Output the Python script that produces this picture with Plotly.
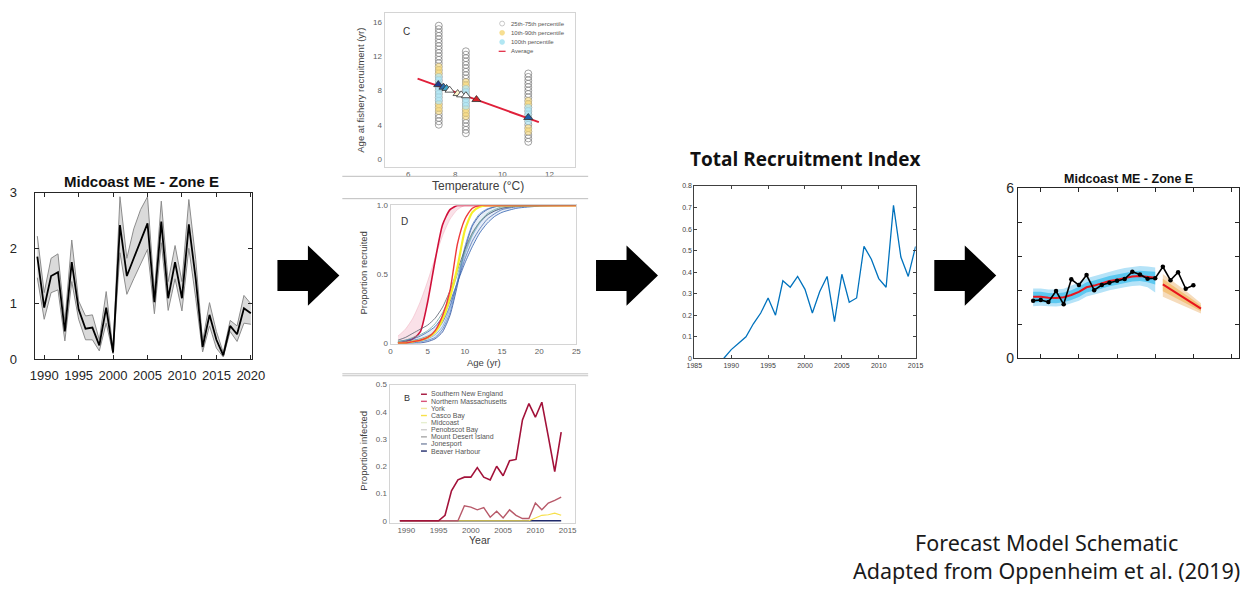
import plotly.graph_objects as go

# ---------------- DATA ----------------
# Panel A: Midcoast ME - Zone E (observed index with uncertainty band)
YEARS_A = [1989, 1990, 1991, 1992, 1993, 1994, 1995, 1996, 1997, 1998, 1999, 2000, 2001, 2002, 2003, 2004,
           2005, 2006, 2007, 2008, 2009, 2010, 2011, 2012, 2013, 2014, 2015, 2016, 2017, 2018, 2019, 2020]
MEAN_A = [1.85, 0.93, 1.5, 1.57, 0.5, 1.75, 0.9, 0.55, 0.57, 0.25, 0.93, 0.12, 2.42, 1.5, 1.82, 2.13,
          2.45, 1.03, 2.48, 1.1, 1.75, 1.1, 2.43, 1.45, 0.22, 0.8, 0.35, 0.07, 0.6, 0.45, 0.92, 0.83]
UP_A = [2.22, 1.2, 1.82, 1.9, 0.68, 2.15, 1.05, 0.78, 0.8, 0.35, 1.22, 0.17, 2.93, 1.82, 2.35, 2.7,
        2.93, 1.22, 2.85, 1.4, 2.05, 1.4, 2.88, 1.8, 0.32, 1.02, 0.5, 0.12, 0.7, 0.6, 1.15, 1.0]
LO_A = [1.47, 0.72, 1.2, 1.25, 0.33, 1.4, 0.72, 0.35, 0.35, 0.15, 0.65, 0.1, 1.92, 1.17, 1.45, 1.72,
        1.98, 0.82, 2.1, 0.88, 1.45, 0.87, 2.0, 1.1, 0.13, 0.6, 0.2, 0.04, 0.5, 0.32, 0.65, 0.63]
TICKS_A_X = [1990, 1995, 2000, 2005, 2010, 2015, 2020]
TICKS_A_Y = [0, 1, 2, 3]

# Panel C: age at fishery recruitment vs temperature
COL_TEMPS = [7.3, 8.45, 11.1]
COL1_AGES = [4.0, 4.4, 4.8, 5.2, 5.6, 6.0, 6.4, 6.8, 7.2, 7.6, 8.0, 8.4, 8.8, 9.2, 9.6, 10.0, 10.4, 10.8,
             11.2, 11.6, 12.0, 12.4, 12.8, 13.2, 13.6, 14.0, 14.4, 14.8, 15.2, 15.6]
COL2_AGES = [3.0, 3.4, 3.8, 4.2, 4.6, 5.0, 5.4, 5.8, 6.2, 6.6, 7.0, 7.4, 7.8, 8.2, 8.6, 9.0, 9.4, 9.8,
             10.2, 10.6, 11.0, 11.4, 11.8, 12.2, 12.6]
COL3_AGES = [2.0, 2.4, 2.8, 3.2, 3.6, 4.0, 4.4, 4.8, 5.2, 5.6, 6.0, 6.4, 6.8, 7.2, 7.6, 8.0, 8.4, 8.8,
             9.2, 9.6, 10.0]
P1090_AGES = [[5.6, 6.0, 6.4, 10.0, 10.4, 10.8], [5.0, 5.4, 5.8, 8.6, 9.0], [3.2, 3.6, 6.4, 6.8]]
P2575_AGES = [[6.8, 7.2, 7.6, 8.0, 8.4, 8.8, 9.2, 9.6], [6.2, 6.6, 7.0, 7.4, 7.8, 8.2], [4.4, 4.8, 5.2, 5.6, 6.0]]
TRI_TEMP = [7.28, 7.5, 7.63, 7.76, 8.1, 8.25, 8.45, 8.9, 11.1]
TRI_AGE = [8.7, 8.4, 8.25, 8.05, 7.65, 7.5, 7.4, 6.95, 4.85]
TRI_COLORS = ['#1f3b8c', '#2a6fb0', '#3fa6c8', '#ffffff', '#fff5cc', '#ffffff', '#ffffff', '#d62027', '#1f5fa8']
AVG_TEMP = [6.4, 11.55]
AVG_AGE = [9.4, 4.3]
C_LEGEND = ['25th-75th percentile', '10th-90th percentile', '100th percentile', 'Average']

# Panel D: proportion recruited vs age
AGE_D = [1, 2, 3, 4, 5, 6, 7, 8, 9, 10, 11, 12, 13, 14, 15, 17, 20, 25]
R_SHALLOW = [0.05, 0.1, 0.18, 0.3, 0.45, 0.62, 0.78, 0.9, 0.97, 1, 1, 1, 1, 1, 1, 1, 1, 1]
R_STEEP = [0.0, 0.01, 0.03, 0.08, 0.3, 0.6, 0.86, 0.97, 1, 1, 1, 1, 1, 1, 1, 1, 1, 1]
R_LATE = [0, 0, 0.01, 0.02, 0.04, 0.09, 0.2, 0.38, 0.72, 0.9, 0.98, 1, 1, 1, 1, 1, 1, 1]
Y_LATE = [0, 0, 0.01, 0.02, 0.04, 0.08, 0.17, 0.33, 0.55, 0.82, 0.95, 0.99, 1, 1, 1, 1, 1, 1]
B_STEEP = [0, 0, 0, 0, 0.01, 0.03, 0.08, 0.2, 0.42, 0.68, 0.85, 0.93, 0.97, 0.99, 1, 1, 1, 1]
B_MID1 = [0, 0, 0, 0.01, 0.02, 0.04, 0.1, 0.22, 0.45, 0.7, 0.86, 0.94, 0.975, 0.99, 1, 1, 1, 1]
B_MID2 = [0, 0, 0.01, 0.02, 0.03, 0.06, 0.12, 0.25, 0.45, 0.64, 0.78, 0.87, 0.93, 0.96, 0.98, 0.995, 1, 1]
B_MID3 = [0, 0.01, 0.02, 0.03, 0.05, 0.08, 0.15, 0.27, 0.44, 0.61, 0.74, 0.83, 0.9, 0.94, 0.97, 0.99, 1, 1]
B_SHALLOW = [0.01, 0.02, 0.03, 0.05, 0.08, 0.12, 0.19, 0.3, 0.44, 0.58, 0.7, 0.8, 0.87, 0.92, 0.95, 0.98, 0.995, 1]
G_ONE = [0.02, 0.04, 0.07, 0.1, 0.13, 0.18, 0.26, 0.38, 0.53, 0.68, 0.8, 0.88, 0.93, 0.96, 0.98, 0.995, 1, 1]
G_TWO = [0.01, 0.02, 0.04, 0.06, 0.09, 0.14, 0.22, 0.34, 0.5, 0.66, 0.79, 0.88, 0.94, 0.97, 0.99, 1, 1, 1]

# Panel B: proportion infected by region
YEARS_B = [1989, 1990, 1991, 1992, 1993, 1994, 1995, 1996, 1997, 1998, 1999, 2000, 2001, 2002, 2003,
           2004, 2005, 2006, 2007, 2008, 2009, 2010, 2011, 2012, 2013, 2014]
SNE = [0, 0, 0, 0, 0, 0, 0, 0.02, 0.11, 0.15, 0.16, 0.16, 0.195, 0.16, 0.15, 0.2, 0.165, 0.22, 0.225,
       0.37, 0.43, 0.38, 0.435, 0.31, 0.18, 0.325]
NMASS = [0, 0, 0, 0, 0, 0, 0, 0, 0, 0, 0.055, 0.05, 0.04, 0.048, 0.013, 0.035, 0.01, 0.04, 0.02,
         0.008, 0.008, 0.065, 0.04, 0.065, 0.075, 0.087]
YORK = [0, 0, 0, 0, 0, 0, 0, 0, 0, 0, 0, 0, 0, 0, 0, 0, 0, 0, 0, 0, 0, 0.01, 0.02, 0.022, 0.028, 0.02]
ZEROS_B = [0, 0, 0, 0, 0, 0, 0, 0, 0, 0, 0, 0, 0, 0, 0, 0, 0, 0, 0, 0, 0, 0, 0, 0, 0, 0]
B_REGIONS = ['Southern New England', 'Northern Massachusetts', 'York', 'Casco Bay', 'Midcoast',
             'Penobscot Bay', 'Mount Desert Island', 'Jonesport', 'Beaver Harbour']
B_COLORS = ['#a3123a', '#d9547a', '#f3e7a0', '#f7e04a', '#e6efd0', '#cfcfcf', '#a8a8a8', '#7d8aa6', '#1f2a6b']

# Panel: Total Recruitment Index
YEARS_T = [1989, 1990, 1991, 1992, 1993, 1994, 1995, 1996, 1997, 1998, 1999, 2000, 2001, 2002, 2003,
           2004, 2005, 2006, 2007, 2008, 2009, 2010, 2011, 2012, 2013, 2014, 2015]
TRI = [0, 0.04, 0.07, 0.1, 0.16, 0.21, 0.28, 0.2, 0.36, 0.33, 0.38, 0.32, 0.21, 0.31, 0.38, 0.17, 0.39,
       0.26, 0.28, 0.52, 0.46, 0.37, 0.33, 0.71, 0.47, 0.38, 0.52]
TICKS_T_X = [1985, 1990, 1995, 2000, 2005, 2010, 2015]
TICKS_T_Y = [0, 0.1, 0.2, 0.3, 0.4, 0.5, 0.6, 0.7, 0.8]
TICKTEXT_T_Y = ['0', '0.1', '0.2', '0.3', '0.4', '0.5', '0.6', '0.7', '0.8']

# Panel: Forecast
YEARS_OBS = [1989, 1990, 1991, 1992, 1993, 1994, 1995, 1996, 1997, 1998, 1999, 2000, 2001, 2002, 2003,
             2004, 2005, 2006, 2007, 2008, 2009, 2010]
OBS = [2.03, 2.05, 1.98, 2.37, 1.9, 2.78, 2.58, 2.93, 2.4, 2.58, 2.66, 2.73, 2.79, 3.05, 2.95, 2.8,
       2.82, 3.22, 2.75, 3.03, 2.45, 2.57]
YEARS_FIT = [1989, 1990, 1991, 1992, 1993, 1994, 1995, 1996, 1997, 1998, 1999, 2000, 2001, 2002, 2003,
             2004, 2005]
FIT = [2.17, 2.17, 2.13, 2.12, 2.15, 2.23, 2.34, 2.5, 2.56, 2.64, 2.72, 2.77, 2.83, 2.88, 2.9, 2.88, 2.84]
FIT_OUT_UP = [2.46, 2.46, 2.42, 2.42, 2.45, 2.55, 2.67, 2.82, 2.9, 2.98, 3.06, 3.12, 3.18, 3.22, 3.25, 3.23, 3.2]
FIT_OUT_LO = [1.83, 1.85, 1.83, 1.82, 1.85, 1.93, 2.03, 2.18, 2.24, 2.32, 2.4, 2.44, 2.5, 2.55, 2.56, 2.5, 2.32]
FIT_IN_UP = [2.34, 2.34, 2.3, 2.29, 2.32, 2.4, 2.52, 2.68, 2.74, 2.82, 2.9, 2.95, 3.01, 3.06, 3.08, 3.06, 3.05]
FIT_IN_LO = [1.96, 1.98, 1.95, 1.94, 1.97, 2.05, 2.16, 2.32, 2.38, 2.46, 2.54, 2.59, 2.65, 2.7, 2.72, 2.68, 2.6]
YEARS_FC = [2006, 2007, 2008, 2009, 2010, 2011]
FC = [2.6, 2.43, 2.26, 2.09, 1.92, 1.75]
FC_OUT_UP = [2.97, 2.78, 2.58, 2.38, 2.16, 1.94]
FC_OUT_LO = [2.17, 2.05, 1.93, 1.81, 1.69, 1.58]
FC_IN_UP = [2.8, 2.62, 2.43, 2.24, 2.05, 1.85]
FC_IN_LO = [2.36, 2.22, 2.08, 1.94, 1.8, 1.66]
TICKS_F_X = [1990, 1995, 2000, 2005, 2010, 2015]
TICKS_F_Y = [0, 1.2, 2.4, 3.6, 4.8, 6]
TICKTEXT_F_Y = ['0', '', '', '', '', '6']

# ---------------- LAYOUT HELPERS ----------------
W, H = 1260, 590


def xd(l, r):
    return [l / W, r / W]


def yd(t, b):
    return [1 - b / H, 1 - t / H]


def px(x):
    return x / W


def py(y):
    return 1 - y / H


fig = go.Figure()


def add(tr, n):
    tr.update(xaxis='x' if n == 1 else 'x%d' % n, yaxis='y' if n == 1 else 'y%d' % n,
              hoverinfo='skip', showlegend=False)
    fig.add_trace(tr)


# ---- Panel A ----
add(go.Scatter(x=YEARS_A, y=UP_A, mode='lines', line=dict(color='#8c8c8c', width=1)), 1)
add(go.Scatter(x=YEARS_A, y=LO_A, mode='lines', line=dict(color='#8c8c8c', width=1),
               fill='tonexty', fillcolor='#dadada'), 1)
add(go.Scatter(x=YEARS_A, y=MEAN_A, mode='lines', line=dict(color='black', width=1.8)), 1)

# ---- Panel C ----
for t, ages in zip(COL_TEMPS, [COL1_AGES, COL2_AGES, COL3_AGES]):
    add(go.Scatter(x=[t] * len(ages), y=ages, mode='markers',
                   marker=dict(symbol='circle-open', size=7, color='#7a7a7a', line=dict(width=0.7))), 2)
for t, ages in zip(COL_TEMPS, P1090_AGES):
    add(go.Scatter(x=[t] * len(ages), y=ages, mode='markers',
                   marker=dict(symbol='circle', size=7, color='rgba(245,215,120,0.6)')), 2)
for t, ages in zip(COL_TEMPS, P2575_AGES):
    add(go.Scatter(x=[t] * len(ages), y=ages, mode='markers',
                   marker=dict(symbol='circle', size=7, color='rgba(170,228,242,0.65)')), 2)
add(go.Scatter(x=AVG_TEMP, y=AVG_AGE, mode='lines', line=dict(color='#e0203a', width=2)), 2)
add(go.Scatter(x=TRI_TEMP, y=TRI_AGE, mode='markers',
               marker=dict(symbol='triangle-up', size=8, color=TRI_COLORS,
                           line=dict(color='#333333', width=0.8))), 2)

# ---- Panel D ----
SPL = dict(shape='spline', smoothing=0.6)
add(go.Scatter(x=AGE_D, y=R_SHALLOW, mode='lines', line=dict(color='rgba(235,150,170,0.6)', width=0.6, **SPL)), 3)
add(go.Scatter(x=AGE_D, y=R_STEEP, mode='lines', line=dict(color='#d0103a', width=1.6, **SPL),
               fill='tonexty', fillcolor='rgba(240,170,190,0.35)'), 3)
add(go.Scatter(x=AGE_D, y=B_STEEP, mode='lines', line=dict(color='#2b4c9b', width=0.8, **SPL)), 3)
add(go.Scatter(x=AGE_D, y=B_SHALLOW, mode='lines', line=dict(color='#2f5fae', width=0.8, **SPL),
               fill='tonexty', fillcolor='rgba(140,175,220,0.22)'), 3)
add(go.Scatter(x=AGE_D, y=B_MID1, mode='lines', line=dict(color='#4f7fc4', width=0.8, **SPL)), 3)
add(go.Scatter(x=AGE_D, y=B_MID2, mode='lines', line=dict(color='#7ea6da', width=0.8, **SPL)), 3)
add(go.Scatter(x=AGE_D, y=B_MID3, mode='lines', line=dict(color='#3a5fa8', width=0.7, **SPL)), 3)
add(go.Scatter(x=AGE_D, y=G_ONE, mode='lines', line=dict(color='#555d6b', width=0.8, **SPL)), 3)
add(go.Scatter(x=AGE_D, y=G_TWO, mode='lines', line=dict(color='#6aa7a0', width=0.8, **SPL)), 3)
add(go.Scatter(x=AGE_D, y=Y_LATE, mode='lines', line=dict(color='#f5ee2a', width=2.2, **SPL)), 3)
add(go.Scatter(x=AGE_D, y=R_LATE, mode='lines', line=dict(color='#ee3b3b', width=1.4, **SPL)), 3)

# ---- Panel B ----
for ys, c, w in [(ZEROS_B, B_COLORS[8], 1.6), (YORK, B_COLORS[3], 1.2), (NMASS, '#b85a6a', 1.4),
                 (SNE, B_COLORS[0], 1.6)]:
    add(go.Scatter(x=YEARS_B, y=ys, mode='lines', line=dict(color=c, width=w)), 4)

# ---- Total Recruitment Index ----
add(go.Scatter(x=YEARS_T, y=TRI, mode='lines', line=dict(color='#0072bd', width=1.3)), 5)

# ---- Forecast ----
NOL = dict(width=0, color='rgba(0,0,0,0)')
add(go.Scatter(x=YEARS_FIT, y=FIT_OUT_UP, mode='lines', line=NOL), 6)
add(go.Scatter(x=YEARS_FIT, y=FIT_OUT_LO, mode='lines', line=NOL, fill='tonexty', fillcolor='#b5e3f8'), 6)
add(go.Scatter(x=YEARS_FIT, y=FIT_IN_UP, mode='lines', line=NOL), 6)
add(go.Scatter(x=YEARS_FIT, y=FIT_IN_LO, mode='lines', line=NOL, fill='tonexty', fillcolor='#5cc8f0'), 6)
add(go.Scatter(x=YEARS_FC, y=FC_OUT_UP, mode='lines', line=NOL), 6)
add(go.Scatter(x=YEARS_FC, y=FC_OUT_LO, mode='lines', line=NOL, fill='tonexty', fillcolor='#f6dcbc'), 6)
add(go.Scatter(x=YEARS_FC, y=FC_IN_UP, mode='lines', line=NOL), 6)
add(go.Scatter(x=YEARS_FC, y=FC_IN_LO, mode='lines', line=NOL, fill='tonexty', fillcolor='#f3c27c'), 6)
add(go.Scatter(x=YEARS_FIT, y=FIT, mode='lines', line=dict(color='#e8141c', width=2)), 6)
add(go.Scatter(x=YEARS_FC, y=FC, mode='lines', line=dict(color='#e8141c', width=2)), 6)
add(go.Scatter(x=YEARS_OBS, y=OBS, mode='lines+markers', line=dict(color='black', width=1.6),
               marker=dict(size=4.5, color='black')), 6)

# ---------------- AXES ----------------
MAT = dict(showgrid=False, zeroline=False, showline=True, linecolor='#262626', linewidth=1,
           mirror='allticks', ticks='inside', tickcolor='#262626', ticklen=4, fixedrange=True)
MID = dict(showgrid=False, zeroline=False, showline=True, linecolor='#d4d4d4', linewidth=1,
           mirror=True, ticks='', fixedrange=True,
           tickfont=dict(family='Liberation Sans', size=8, color='#606060'))

layout = dict(
    width=W, height=H, margin=dict(l=0, r=0, t=0, b=0),
    paper_bgcolor='white', plot_bgcolor='white', showlegend=False,
    xaxis=dict(MAT, domain=xd(27, 248), range=[1988.6, 2020.15], tickvals=TICKS_A_X, anchor='y',
               ticklabelstandoff=4,
               tickfont=dict(family='Liberation Sans', size=13, color='#262626')),
    yaxis=dict(MAT, domain=yd(190, 361), range=[0, 3], tickvals=TICKS_A_Y, anchor='x',
               ticklabelstandoff=14,
               tickfont=dict(family='Liberation Sans', size=13, color='#262626')),
    xaxis2=dict(MID, domain=xd(383, 577), range=[5, 13.1], tickvals=[6, 8, 10, 12], anchor='y2'),
    yaxis2=dict(MID, domain=yd(5, 163), range=[-0.9, 17.1], tickvals=[0, 4, 8, 12, 16], anchor='x2'),
    xaxis3=dict(MID, domain=xd(389, 578), range=[0, 25], tickvals=[0, 5, 10, 15, 20, 25], anchor='y3'),
    yaxis3=dict(MID, domain=yd(203, 345), range=[-0.005, 1.0], tickvals=[0, 0.5, 1],
                ticktext=['0', '0.5', '1.0'], anchor='x3'),
    xaxis4=dict(MID, domain=xd(388, 577), range=[1987.4, 2016.2],
                tickvals=[1990, 1995, 2000, 2005, 2010, 2015], anchor='y4'),
    yaxis4=dict(MID, domain=yd(387, 529), range=[-0.007, 0.5], tickvals=[0, 0.1, 0.2, 0.3, 0.4, 0.5],
                ticktext=['0', '0.1', '0.2', '0.3', '0.4', '0.5'], anchor='x4'),
    xaxis5=dict(MAT, domain=xd(698, 923), range=[1985, 2015], tickvals=TICKS_T_X, anchor='y5',
                linecolor='#404040', tickcolor='#404040', ticklen=3,
                tickfont=dict(family='Liberation Sans', size=7, color='#404040')),
    yaxis5=dict(MAT, domain=yd(183, 360), range=[0, 0.8], tickvals=TICKS_T_Y, ticktext=TICKTEXT_T_Y,
                anchor='x5', linecolor='#404040', tickcolor='#404040', ticklen=3,
                tickfont=dict(family='Liberation Sans', size=7, color='#404040')),
    xaxis6=dict(MAT, domain=xd(1027, 1252), range=[1987, 2016], tickvals=TICKS_F_X, showticklabels=False,
                anchor='y6'),
    yaxis6=dict(MAT, domain=yd(185, 360), range=[0, 6], tickvals=TICKS_F_Y, ticktext=TICKTEXT_F_Y,
                anchor='x6', ticklabelstandoff=0,
                tickfont=dict(family='Liberation Sans', size=14, color='#262626')),
)
fig.update_layout(**layout)

# ---------------- ANNOTATIONS ----------------
ann = []


def text(x, y, s, size, color='#222222', bold=False, family='Liberation Sans', angle=0, xanchor='center'):
    ann.append(dict(x=px(x), y=py(y), xref='paper', yref='paper', text='<b>%s</b>' % s if bold else s,
                    showarrow=False, xanchor=xanchor, yanchor='middle', textangle=angle,
                    font=dict(size=size, color=color, family=family)))


text(136, 178, 'Midcoast ME - Zone E', 15, '#111111', bold=True)
text(811, 155, 'Total Recruitment Index', 19, '#111111', bold=True, family='Open Sans')
text(1139, 176, 'Midcoast ME - Zone E', 12.5, '#111111', bold=True)
text(1056, 564, 'Forecast Model Schematic<br>Adapted from Oppenheim et al. (2019)', 21.5, '#1a1a1a',
     family='Noto Sans')

# middle column labels
text(478, 183, 'Temperature (°C)', 12, '#404040')
text(359, 85, 'Age at fishery recruitment (yr)', 9.5, '#404040', angle=-90)
text(405, 24, 'C', 10, '#333333')
for i, s in enumerate(C_LEGEND):
    text(509, 16 + i * 9.5, s, 6, '#555555', xanchor='left')
text(484, 364, 'Age (yr)', 9.5, '#404040')
text(362, 272, 'Proportion recruited', 9.5, '#404040', angle=-90)
text(403, 219, 'D', 10, '#333333')
text(480, 547, 'Year', 10.5, '#404040')
text(362, 455, 'Proportion infected', 9.5, '#404040', angle=-90)
text(406, 401, 'B', 9, '#333333')
for i, s in enumerate(B_REGIONS):
    text(428, 397 + i * 7.3, s, 7, '#555555', xanchor='left')

fig.update_layout(annotations=ann)

# ---------------- SHAPES ----------------
shapes = []


def arrow(x0):
    pts = [(x0, 259), (x0 + 31, 259), (x0 + 31, 244), (x0 + 63, 275), (x0 + 31, 306), (x0 + 31, 291),
           (x0, 291)]
    path = 'M ' + ' L '.join('%.5f,%.5f' % (px(a), py(b)) for a, b in pts) + ' Z'
    shapes.append(dict(type='path', path=path, xref='paper', yref='paper', fillcolor='black',
                       line=dict(color='black', width=0)))


for x0 in [274, 598, 942]:
    arrow(x0)

for yy, c in [(173, '#bdbdbd'), (196, '#bdbdbd'), (376, '#c4c4c4'), (378, '#c4c4c4')]:
    shapes.append(dict(type='line', xref='paper', yref='paper', x0=px(340), x1=px(590), y0=py(yy), y1=py(yy),
                       line=dict(color=c, width=1)))

# panel C legend swatches
sw_colors = [('rgba(0,0,0,0)', '#b0b0b0'), ('rgba(245,215,120,0.8)', 'rgba(245,215,120,0.8)'),
             ('rgba(170,228,242,0.9)', 'rgba(170,228,242,0.9)')]
for i, (fc, lc) in enumerate(sw_colors):
    yy = 16 + i * 9.5
    shapes.append(dict(type='circle', xref='paper', yref='paper', x0=px(500), x1=px(505), y0=py(yy + 2.5),
                       y1=py(yy - 2.5), fillcolor=fc, line=dict(color=lc, width=0.7)))
shapes.append(dict(type='line', xref='paper', yref='paper', x0=px(499), x1=px(506), y0=py(16 + 3 * 9.5),
                   y1=py(16 + 3 * 9.5), line=dict(color='#e0203a', width=1.2)))
# panel B legend swatches
for i, c in enumerate(B_COLORS):
    yy = 397 + i * 7.3
    shapes.append(dict(type='line', xref='paper', yref='paper', x0=px(420), x1=px(426), y0=py(yy), y1=py(yy),
                       line=dict(color=c, width=1.4)))

fig.update_layout(shapes=shapes)

fig.write_html('out.html')
